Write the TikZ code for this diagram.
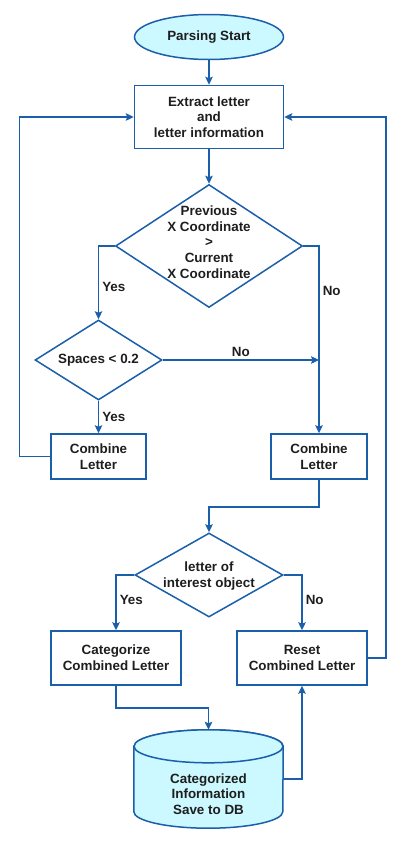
\documentclass[tikz,border=0pt]{standalone}
\usepackage{fontspec}
\setmainfont{Liberation Sans}
\usetikzlibrary{arrows.meta,positioning,calc,shapes.geometric,backgrounds}
\definecolor{flowblue}{HTML}{1B5EAA}
\definecolor{flowcyan}{HTML}{CCF8FF}
\definecolor{flowtext}{HTML}{1E1E1E}
\newcommand\flowfont{\fontsize{13.4}{15.7}\selectfont\bfseries}
\tikzset{
  >={Stealth[length=8pt,width=7.5pt,inset=1.5pt]},
  % noder
  term/.style={ellipse,draw=flowblue,fill=flowcyan,line width=1.5pt,
               inner sep=0pt,minimum width=149pt,minimum height=45pt},
  proc/.style={rectangle,draw=flowblue,fill=white,line width=1.5pt,
               inner sep=0pt,align=center},
  dec/.style={diamond,draw=flowblue,fill=white,line width=1.5pt,inner sep=0pt},
  storebox/.style={rectangle,inner sep=0pt,minimum width=149pt,minimum height=98pt},
  storeline/.style={draw=flowblue,fill=flowcyan,line width=1.5pt},
  % pilar
  fl/.style={->,draw=flowblue,line width=1.5pt},
  lbl/.style={inner sep=3pt,text=flowtext},
}

\begin{document}
\begin{tikzpicture}[x=1pt,y=-1pt,every node/.append style={font=\flowfont,text=flowtext}]
  \useasboundingbox (0,0) rectangle (407,844);
  \node[term] (start) at (209,37) {Parsing Start};
  \node[proc,minimum width=149pt,minimum height=63pt] (extract) at (209,117)
    {Extract letter\\and\\letter information};
  \node[dec,minimum width=187pt,minimum height=123pt,
        label={[align=center,yshift=4pt]center:Previous\\X Coordinate\\>\\Current\\X Coordinate}]
    (prevx) at (209,246) {};
  \node[dec,minimum width=127pt,minimum height=80pt,
        label={center:Spaces < 0.2}] (spaces) at (98.5,360) {};
  \node[proc,minimum width=95pt,minimum height=45pt] (combA) at (98.5,456.5)
    {Combine\\Letter};
  \node[proc,minimum width=96pt,minimum height=45pt] (combB) at (319,456.5)
    {Combine\\Letter};
  \node[dec,minimum width=148pt,minimum height=84pt,
        label={[align=center,yshift=-1pt]center:letter of\\interest object}]
    (interest) at (209,575) {};
  \node[proc,minimum width=130pt,minimum height=54pt] (categ) at (116,658)
    {Categorize\\Combined Letter};
  \node[proc,minimum width=130pt,minimum height=54pt] (reset) at (302,658)
    {Reset\\Combined Letter};
  \node[storebox,label={[align=center,yshift=-15pt]center:Categorized\\Information\\Save to DB}]
    (db) at (208.5,779) {};
  \begin{scope}[on background layer]
  \filldraw[storeline] ($(db.north west)+(0,16.5)$) -- ($(db.south west)+(0,-16.5)$)
    arc[start angle=180,end angle=0,x radius=74.5,y radius=16.5]
    -- ($(db.north east)+(0,16.5)$)
    arc[start angle=0,end angle=-180,x radius=74.5,y radius=16.5] -- cycle;
  \draw[storeline] (db.north) ++(0,16.5) ellipse[x radius=74.5,y radius=16.5];
  \end{scope}

  \draw[fl] (start) -- (extract);
  \draw[fl] (extract) -- (prevx);
  \draw[fl] (prevx.west) -| node[lbl,right,pos=0.78]{Yes} (spaces.north);
  \draw[fl] (prevx.east) -| node[lbl,right,pos=0.62]{No} (combB.north);
  \draw[fl] (spaces.east) -- node[lbl,above]{No} (spaces.east -| combB.north);
  \draw[fl] (spaces) -- node[lbl,right]{Yes} (combA);
  \draw[fl] (combA.west) -- ++(-31,0) |- (extract.west);
  \draw[fl] (combB.south) -- ++(0,27) -| (interest.north);
  \draw[fl] (interest.west) -| node[lbl,right,pos=0.73]{Yes} (categ.north);
  \draw[fl] (interest.east) -| node[lbl,right,pos=0.73]{No} (reset.north);
  \draw[fl] (categ.south) -- ++(0,22) -| (db.north);
  \draw[fl] (db.east) -| (reset.south);
  \draw[fl] (reset.east) -- ++(18,0) |- (extract.east);
\end{tikzpicture}
\end{document}
